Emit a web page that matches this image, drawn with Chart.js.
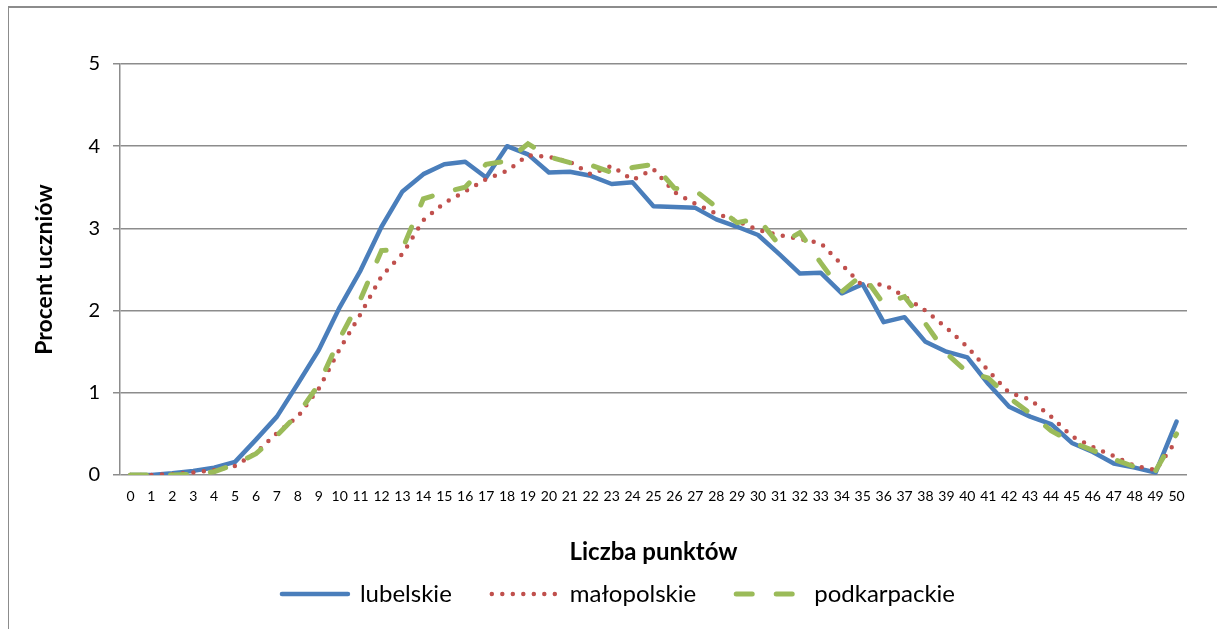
<!DOCTYPE html>
<html>
<head>
<meta charset="utf-8">
<script src="https://cdn.jsdelivr.net/npm/chart.js@4.4.0/dist/chart.umd.min.js"></script>
<style>
  body { margin: 0; background: #fff; }
  #wrap { position: relative; width: 1217px; height: 629px; overflow: hidden; background: #fff; }
  #chart { position: absolute; left: 0; top: 0; }
  #frame { position: absolute; left: 8px; top: 6px; width: 1300px; height: 700px;
           border-top: 2px solid #8c8c8c; border-left: 1.5px solid #8c8c8c; }
</style>
</head>
<body>
<div id="wrap">
  <canvas id="chart" width="1217" height="629"></canvas>
  <div id="frame"></div>
</div>
<script>
// liczba punktów (oś X)
const punkty = ['0','1','2','3','4','5','6','7','8','9','10','11','12','13','14','15','16','17','18','19','20',
  '21','22','23','24','25','26','27','28','29','30','31','32','33','34','35','36','37','38','39','40',
  '41','42','43','44','45','46','47','48','49','50'];

// procent uczniów
const lubelskie = [0, 0, 0.02, 0.05, 0.09, 0.16, 0.43, 0.71, 1.11, 1.52, 2.04, 2.49, 3.02, 3.45, 3.66, 3.78, 3.81,
  3.62, 4.0, 3.9, 3.68, 3.69, 3.64, 3.54, 3.56, 3.27, 3.26, 3.25, 3.11, 3.02, 2.92, 2.69, 2.45, 2.46, 2.21,
  2.32, 1.86, 1.92, 1.62, 1.5, 1.43, 1.11, 0.83, 0.71, 0.62, 0.39, 0.28, 0.14, 0.09, 0.03, 0.65];
const malopolskie = [0, 0, 0.01, 0.03, 0.06, 0.11, 0.27, 0.51, 0.71, 1.05, 1.53, 1.96, 2.42, 2.69, 3.1, 3.31, 3.45,
  3.6, 3.7, 3.89, 3.87, 3.81, 3.66, 3.76, 3.59, 3.72, 3.44, 3.3, 3.18, 3.09, 2.98, 2.92, 2.87, 2.82, 2.56,
  2.3, 2.32, 2.17, 2.0, 1.79, 1.56, 1.27, 1.0, 0.92, 0.71, 0.47, 0.34, 0.23, 0.11, 0.06, 0.42];
const podkarpackie = [0, 0, 0, 0.01, 0.04, 0.13, 0.26, 0.48, 0.74, 1.1, 1.66, 2.14, 2.73, 2.75, 3.36, 3.44, 3.5,
  3.78, 3.82, 4.03, 3.87, 3.8, 3.77, 3.68, 3.74, 3.78, 3.49, 3.46, 3.26, 3.07, 3.12, 2.8, 2.95, 2.58, 2.23,
  2.44, 2.08, 2.17, 1.84, 1.48, 1.25, 1.18, 0.94, 0.75, 0.54, 0.4, 0.3, 0.19, 0.1, 0.05, 0.5];

const yMin = 0, yMax = 5, yStep = 1;

Chart.defaults.font.family = 'Lato';
Chart.defaults.color = '#000';

const gridColor = '#8c8c8c';

// legenda z przerywanymi liniami jak w serii
function legendLabels(chart) {
  const items = Chart.defaults.plugins.legend.labels.generateLabels(chart);
  items.forEach(it => {
    const ds = chart.data.datasets[it.datasetIndex];
    it.lineDash = ds.borderDash || [];
    it.lineCap = 'round';
    it.strokeStyle = ds.borderColor;
    it.lineWidth = ds.borderWidth;
  });
  return items.sort((a, b) => a.datasetIndex - b.datasetIndex);
}

const ctx = document.getElementById('chart').getContext('2d');
const chart = new Chart(ctx, {
  type: 'line',
  data: {
    labels: punkty,
    datasets: [
      { label: 'lubelskie', data: lubelskie, borderColor: '#4a7ebb', backgroundColor: '#4a7ebb',
        borderWidth: 4.5, pointRadius: 0, tension: 0, order: 3, borderCapStyle: 'round', borderJoinStyle: 'round' },
      { label: 'małopolskie', data: malopolskie, borderColor: '#c0504d', backgroundColor: '#c0504d',
        borderWidth: 4.5, borderDash: [0, 10.5], borderCapStyle: 'round', pointRadius: 0, tension: 0, order: 2 },
      { label: 'podkarpackie', data: podkarpackie, borderColor: '#9bbb59', backgroundColor: '#9bbb59',
        borderWidth: 5, borderDash: [16, 24], borderCapStyle: 'round', pointRadius: 0, tension: 0, order: 1 }
    ]
  },
  options: {
    responsive: false,
    animation: false,
    layout: { padding: { left: 50, right: 30, top: 64, bottom: 13 } },
    plugins: {
      tooltip: { enabled: false },
      legend: {
        position: 'bottom',
        labels: {
          usePointStyle: true,
          pointStyle: 'line',
          pointStyleWidth: 66,
          boxHeight: 24,
          padding: 40,
          font: { size: 24 },
          color: '#000',
          generateLabels: legendLabels
        }
      }
    },
    scales: {
      x: {
        offset: true,
        grid: { display: false, drawTicks: false },
        border: { display: false },
        ticks: { autoSkip: false, maxRotation: 0, minRotation: 0, padding: 13, font: { size: 14 } },
        title: { display: true, text: 'Liczba punktów', font: { size: 24, weight: 'bold' }, padding: { top: 0, bottom: -25 } },
        afterFit: s => { s.height = 67; }
      },
      y: {
        min: yMin, max: yMax,
        ticks: { stepSize: yStep, padding: 13, font: { size: 20 } },
        grid: { color: gridColor, lineWidth: 1.5, tickLength: 7, drawTicks: true },
        border: { color: gridColor, width: 1.5 },
        title: { display: true, text: 'Procent uczniów', font: { size: 23, weight: 'bold' }, padding: { top: -19, bottom: 0 } },
        afterFit: s => { s.width = 70; }
      }
    }
  }
});
</script>
</body>
</html>
